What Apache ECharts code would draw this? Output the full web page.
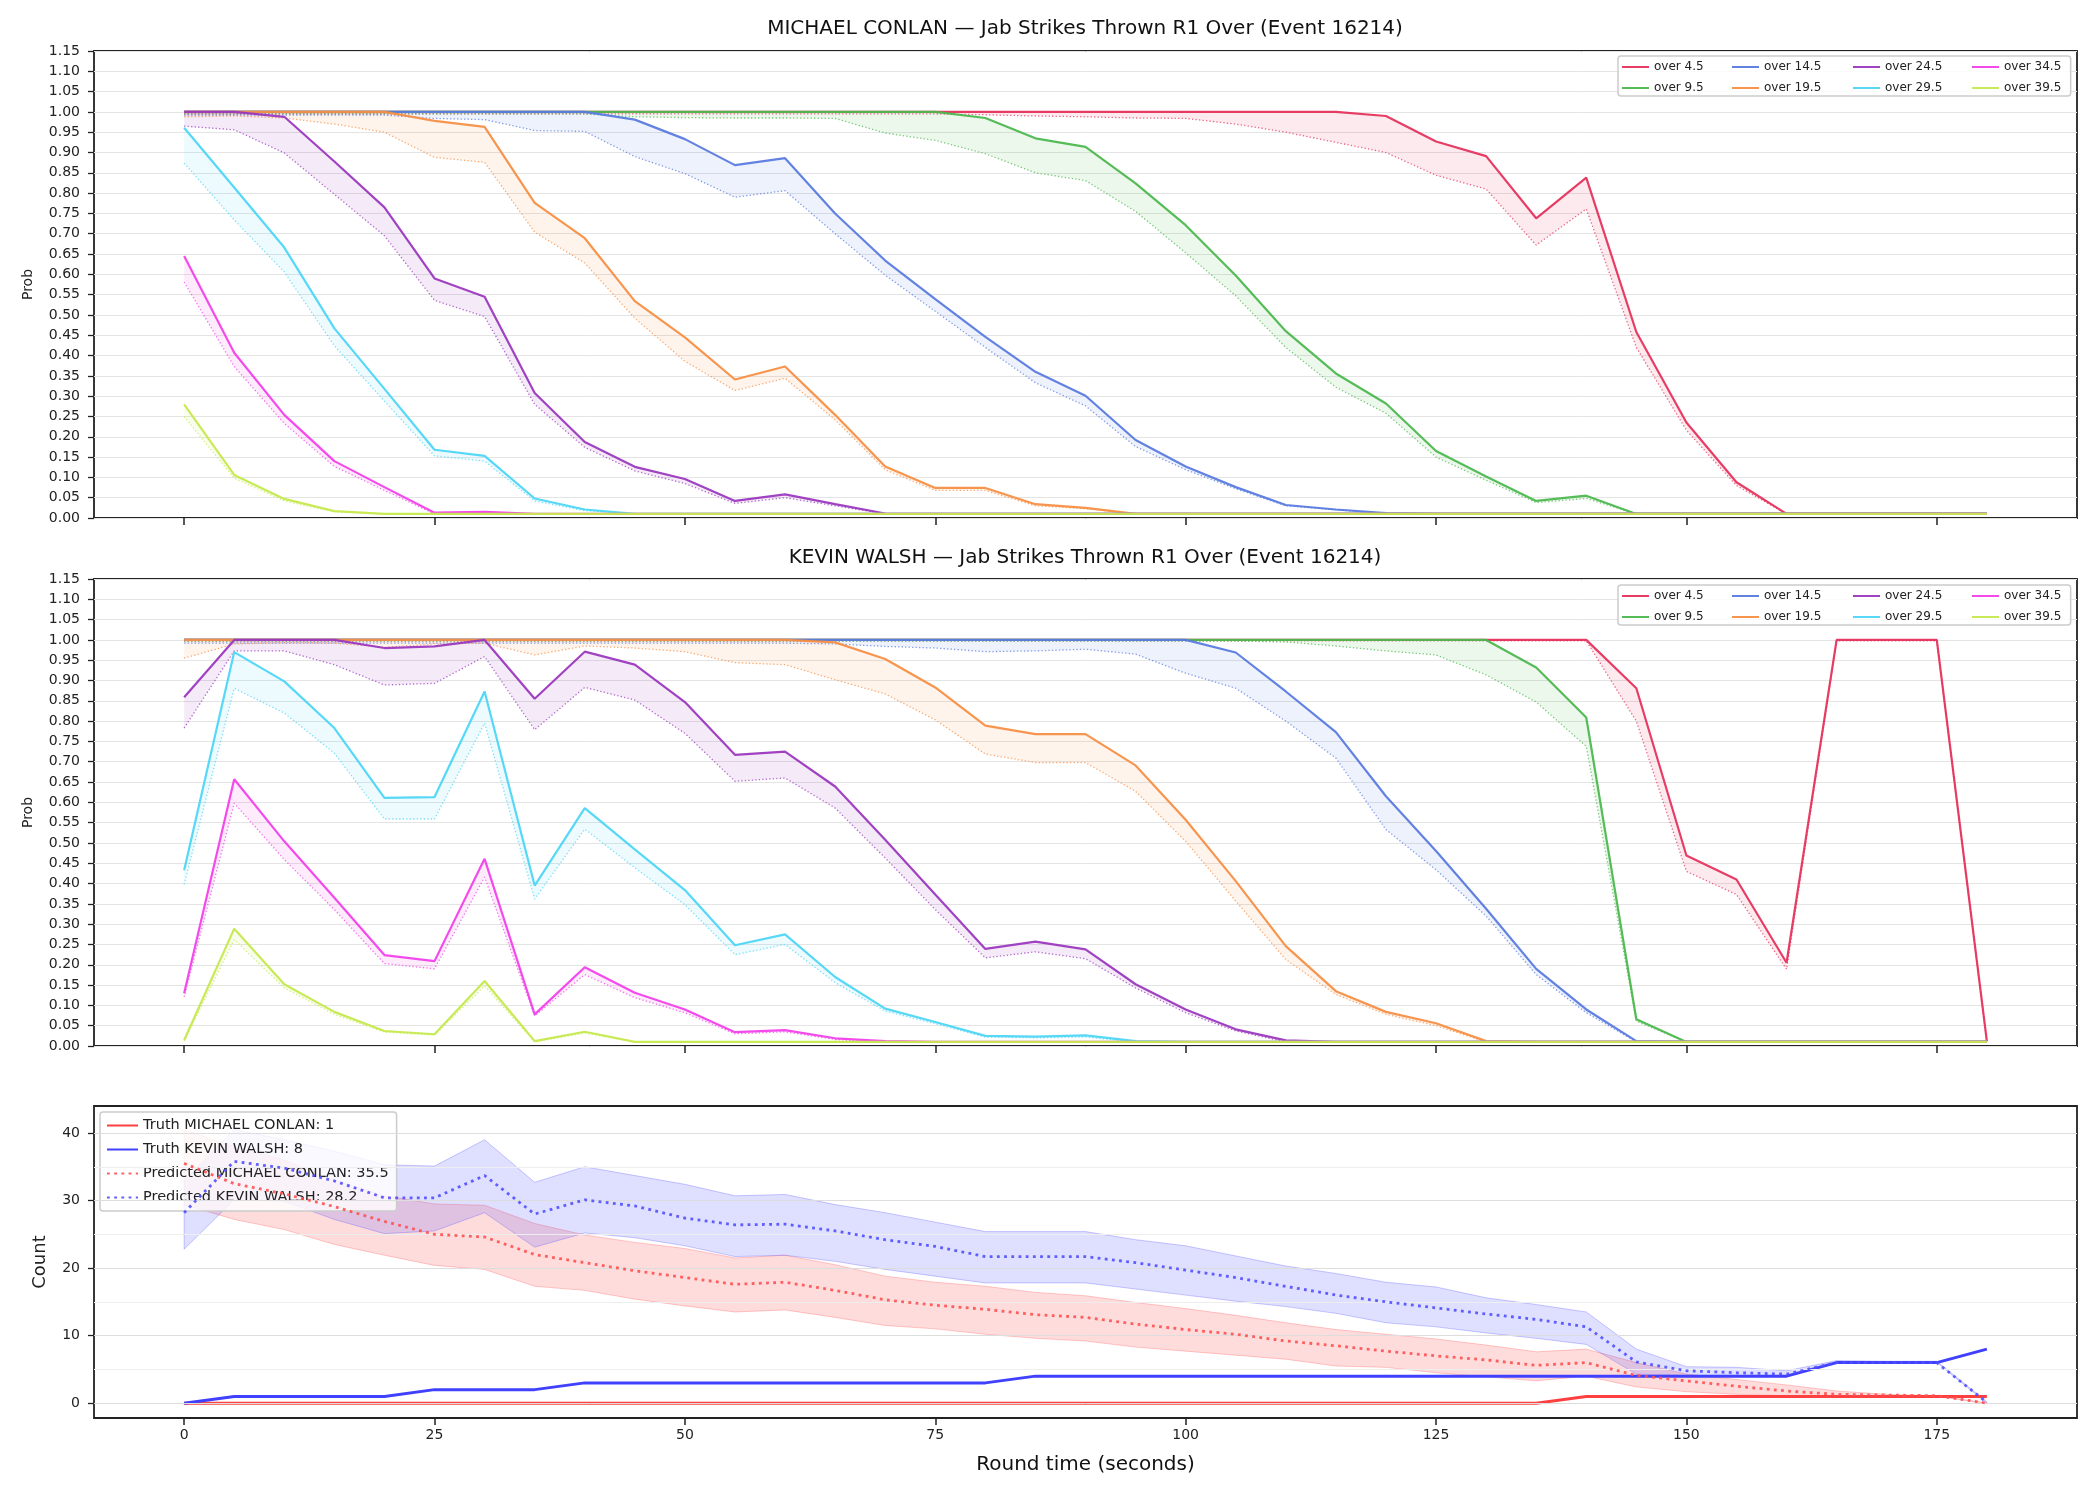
<!DOCTYPE html>
<html>
<head>
<meta charset="utf-8">
<title>Jab Strikes Thrown R1 Over (Event 16214)</title>
<script src="https://cdn.jsdelivr.net/npm/echarts@6/dist/echarts.min.js"></script>
<style>
  html, body { margin: 0; padding: 0; background: #fff; }
  #chart { width: 2100px; height: 1500px; }
</style>
</head>
<body>
<div id="chart"></div>
<script>
// round time axis (seconds)
const roundTime = [0, 5, 10, 15, 20, 25, 30, 35, 40, 45, 50, 55, 60, 65, 70, 75, 80, 85, 90, 95,
  100, 105, 110, 115, 120, 125, 130, 135, 140, 145, 150, 155, 160, 165, 170, 175, 180]
const xTicks = [0, 25, 50, 75, 100, 125, 150, 175]
const countTicks = [0, 10, 20, 30, 40]
const countGrid = [0, 5, 10, 15, 20, 25, 30, 35, 40]

const overNames = ['over 4.5', 'over 9.5', 'over 14.5', 'over 19.5', 'over 24.5', 'over 29.5', 'over 34.5', 'over 39.5']
const overColors = ['#e6335d', '#4cb84e', '#5a7be0', '#f78f45', '#9b38bf', '#4dd6f5', '#f241ea', '#c6e94e']
// legend columns (matplotlib ncol=4 fills column by column)
const legendColumns = [['over 4.5', 'over 9.5'], ['over 14.5', 'over 19.5'], ['over 24.5', 'over 29.5'], ['over 34.5', 'over 39.5']]

// MICHAEL CONLAN - solid line (prob) and dotted lower line
const conlanOver45 = [1, 1, 1, 1, 1, 1, 1, 1, 1, 1,
  1, 1, 1, 1, 1, 1, 1, 1, 1, 1,
  1, 1, 1, 1, 0.99, 0.927, 0.891, 0.738, 0.838, 0.458,
  0.235, 0.088, 0.01, 0.01, 0.01, 0.01, 0.01]
const conlanOver45Low = [0.995, 0.995, 0.995, 0.995, 0.995, 0.995, 0.995, 0.995, 0.995, 0.995,
  0.995, 0.995, 0.995, 0.995, 0.995, 0.995, 0.993, 0.99, 0.988, 0.985,
  0.984, 0.97, 0.95, 0.925, 0.9, 0.844, 0.81, 0.672, 0.761, 0.42,
  0.216, 0.08, 0.01, 0.01, 0.01, 0.01, 0.01]
const conlanOver95 = [1, 1, 1, 1, 1, 1, 1, 1, 1, 1,
  1, 1, 1, 1, 1, 1, 0.985, 0.935, 0.914, 0.824,
  0.721, 0.597, 0.46, 0.356, 0.282, 0.165, 0.102, 0.042, 0.055, 0.01,
  0.01, 0.01, 0.01, 0.01, 0.01, 0.01, 0.01]
const conlanOver95Low = [0.995, 0.995, 0.995, 0.995, 0.995, 0.995, 0.995, 0.995, 0.995, 0.988,
  0.986, 0.985, 0.985, 0.984, 0.948, 0.93, 0.897, 0.85, 0.831, 0.755,
  0.653, 0.547, 0.42, 0.322, 0.258, 0.15, 0.093, 0.038, 0.048, 0.01,
  0.01, 0.01, 0.01, 0.01, 0.01, 0.01, 0.01]
const conlanOver145 = [1, 1, 1, 1, 1, 1, 1, 1, 1, 0.981,
  0.933, 0.869, 0.886, 0.75, 0.634, 0.539, 0.446, 0.36, 0.301, 0.192,
  0.127, 0.076, 0.032, 0.021, 0.012, 0.01, 0.01, 0.01, 0.01, 0.01,
  0.01, 0.01, 0.01, 0.01, 0.01, 0.01, 0.01]
const conlanOver145Low = [0.992, 0.992, 0.992, 0.992, 0.992, 0.984, 0.981, 0.954, 0.952, 0.89,
  0.848, 0.79, 0.806, 0.7, 0.598, 0.509, 0.42, 0.333, 0.276, 0.176,
  0.119, 0.072, 0.03, 0.02, 0.011, 0.01, 0.01, 0.01, 0.01, 0.01,
  0.01, 0.01, 0.01, 0.01, 0.01, 0.01, 0.01]
const conlanOver195 = [1, 1, 1, 1, 1, 0.978, 0.963, 0.776, 0.689, 0.534,
  0.445, 0.341, 0.373, 0.254, 0.127, 0.074, 0.074, 0.034, 0.025, 0.01,
  0.01, 0.01, 0.01, 0.01, 0.01, 0.01, 0.01, 0.01, 0.01, 0.01,
  0.01, 0.01, 0.01, 0.01, 0.01, 0.01, 0.01]
const conlanOver195Low = [0.988, 0.99, 0.985, 0.97, 0.95, 0.888, 0.876, 0.704, 0.628, 0.492,
  0.386, 0.314, 0.344, 0.242, 0.119, 0.068, 0.068, 0.03, 0.023, 0.01,
  0.01, 0.01, 0.01, 0.01, 0.01, 0.01, 0.01, 0.01, 0.01, 0.01,
  0.01, 0.01, 0.01, 0.01, 0.01, 0.01, 0.01]
const conlanOver245 = [1, 1, 0.988, 0.878, 0.765, 0.59, 0.545, 0.308, 0.187, 0.126,
  0.096, 0.042, 0.058, 0.034, 0.011, 0.01, 0.01, 0.01, 0.01, 0.01,
  0.01, 0.01, 0.01, 0.01, 0.01, 0.01, 0.01, 0.01, 0.01, 0.01,
  0.01, 0.01, 0.01, 0.01, 0.01, 0.01, 0.01]
const conlanOver245Low = [0.965, 0.956, 0.899, 0.797, 0.695, 0.536, 0.496, 0.28, 0.174, 0.116,
  0.085, 0.036, 0.05, 0.03, 0.01, 0.01, 0.01, 0.01, 0.01, 0.01,
  0.01, 0.01, 0.01, 0.01, 0.01, 0.01, 0.01, 0.01, 0.01, 0.01,
  0.01, 0.01, 0.01, 0.01, 0.01, 0.01, 0.01]
const conlanOver295 = [0.961, 0.814, 0.666, 0.467, 0.318, 0.168, 0.153, 0.048, 0.021, 0.01,
  0.01, 0.01, 0.01, 0.01, 0.01, 0.01, 0.01, 0.01, 0.01, 0.01,
  0.01, 0.01, 0.01, 0.01, 0.01, 0.01, 0.01, 0.01, 0.01, 0.01,
  0.01, 0.01, 0.01, 0.01, 0.01, 0.01, 0.01]
const conlanOver295Low = [0.874, 0.734, 0.606, 0.424, 0.288, 0.153, 0.14, 0.042, 0.018, 0.01,
  0.01, 0.01, 0.01, 0.01, 0.01, 0.01, 0.01, 0.01, 0.01, 0.01,
  0.01, 0.01, 0.01, 0.01, 0.01, 0.01, 0.01, 0.01, 0.01, 0.01,
  0.01, 0.01, 0.01, 0.01, 0.01, 0.01, 0.01]
const conlanOver345 = [0.645, 0.407, 0.254, 0.14, 0.076, 0.013, 0.015, 0.01, 0.01, 0.01,
  0.01, 0.01, 0.01, 0.01, 0.01, 0.01, 0.01, 0.01, 0.01, 0.01,
  0.01, 0.01, 0.01, 0.01, 0.01, 0.01, 0.01, 0.01, 0.01, 0.01,
  0.01, 0.01, 0.01, 0.01, 0.01, 0.01, 0.01]
const conlanOver345Low = [0.581, 0.373, 0.233, 0.127, 0.068, 0.01, 0.012, 0.01, 0.01, 0.01,
  0.01, 0.01, 0.01, 0.01, 0.01, 0.01, 0.01, 0.01, 0.01, 0.01,
  0.01, 0.01, 0.01, 0.01, 0.01, 0.01, 0.01, 0.01, 0.01, 0.01,
  0.01, 0.01, 0.01, 0.01, 0.01, 0.01, 0.01]
const conlanOver395 = [0.28, 0.106, 0.047, 0.017, 0.01, 0.01, 0.01, 0.01, 0.01, 0.01,
  0.01, 0.01, 0.01, 0.01, 0.01, 0.01, 0.01, 0.01, 0.01, 0.01,
  0.01, 0.01, 0.01, 0.01, 0.01, 0.01, 0.01, 0.01, 0.01, 0.01,
  0.01, 0.01, 0.01, 0.01, 0.01, 0.01, 0.01]
const conlanOver395Low = [0.25, 0.098, 0.042, 0.015, 0.01, 0.01, 0.01, 0.01, 0.01, 0.01,
  0.01, 0.01, 0.01, 0.01, 0.01, 0.01, 0.01, 0.01, 0.01, 0.01,
  0.01, 0.01, 0.01, 0.01, 0.01, 0.01, 0.01, 0.01, 0.01, 0.01,
  0.01, 0.01, 0.01, 0.01, 0.01, 0.01, 0.01]

// KEVIN WALSH
const walshOver45 = [1, 1, 1, 1, 1, 1, 1, 1, 1, 1,
  1, 1, 1, 1, 1, 1, 1, 1, 1, 1,
  1, 1, 1, 1, 1, 1, 1, 1, 1, 0.881,
  0.469, 0.41, 0.205, 1, 1, 1, 0.012]
const walshOver45Low = [0.998, 0.998, 0.998, 0.998, 0.998, 0.998, 0.998, 0.998, 0.998, 0.998,
  0.998, 0.998, 0.998, 0.998, 0.998, 0.998, 0.998, 0.998, 0.998, 0.998,
  0.998, 0.998, 0.998, 0.998, 0.998, 0.998, 0.998, 0.998, 0.998, 0.8,
  0.43, 0.373, 0.189, 0.998, 0.998, 0.998, 0.01]
const walshOver95 = [1, 1, 1, 1, 1, 1, 1, 1, 1, 1,
  1, 1, 1, 1, 1, 1, 1, 1, 1, 1,
  1, 1, 1, 1, 1, 1, 1, 0.932, 0.809, 0.066,
  0.01, 0.01, 0.01, 0.01, 0.01, 0.01, 0.01]
const walshOver95Low = [0.997, 0.997, 0.997, 0.997, 0.997, 0.997, 0.997, 0.997, 0.997, 0.997,
  0.997, 0.997, 0.997, 0.997, 0.997, 0.997, 0.997, 0.997, 0.997, 0.997,
  0.997, 0.997, 0.995, 0.985, 0.973, 0.963, 0.914, 0.847, 0.738, 0.061,
  0.01, 0.01, 0.01, 0.01, 0.01, 0.01, 0.01]
const walshOver145 = [1, 1, 1, 1, 1, 1, 1, 1, 1, 1,
  1, 1, 1, 1, 1, 1, 1, 1, 1, 1,
  1, 0.969, 0.873, 0.773, 0.615, 0.48, 0.338, 0.19, 0.09, 0.012,
  0.01, 0.01, 0.01, 0.01, 0.01, 0.01, 0.01]
const walshOver145Low = [0.992, 0.992, 0.992, 0.992, 0.992, 0.992, 0.992, 0.992, 0.992, 0.992,
  0.992, 0.992, 0.992, 0.99, 0.984, 0.98, 0.971, 0.973, 0.977, 0.965,
  0.918, 0.881, 0.8, 0.709, 0.533, 0.434, 0.32, 0.176, 0.082, 0.01,
  0.01, 0.01, 0.01, 0.01, 0.01, 0.01, 0.01]
const walshOver195 = [1, 1, 1, 1, 1, 1, 1, 1, 1, 1,
  1, 1, 1, 0.994, 0.953, 0.883, 0.789, 0.768, 0.768, 0.691,
  0.557, 0.406, 0.246, 0.135, 0.084, 0.056, 0.012, 0.01, 0.01, 0.01,
  0.01, 0.01, 0.01, 0.01, 0.01, 0.01, 0.01]
const walshOver195Low = [0.955, 0.99, 0.993, 0.992, 0.982, 0.99, 0.992, 0.963, 0.985, 0.98,
  0.971, 0.944, 0.939, 0.902, 0.867, 0.803, 0.719, 0.698, 0.698, 0.627,
  0.504, 0.357, 0.213, 0.127, 0.078, 0.05, 0.01, 0.01, 0.01, 0.01,
  0.01, 0.01, 0.01, 0.01, 0.01, 0.01, 0.01]
const walshOver245 = [0.859, 1, 1, 1, 0.98, 0.984, 1, 0.855, 0.971, 0.939,
  0.847, 0.717, 0.725, 0.639, 0.508, 0.373, 0.239, 0.257, 0.238, 0.152,
  0.09, 0.041, 0.014, 0.01, 0.01, 0.01, 0.01, 0.01, 0.01, 0.01,
  0.01, 0.01, 0.01, 0.01, 0.01, 0.01, 0.01]
const walshOver245Low = [0.783, 0.973, 0.973, 0.939, 0.889, 0.893, 0.959, 0.779, 0.883, 0.852,
  0.77, 0.652, 0.66, 0.586, 0.463, 0.336, 0.217, 0.232, 0.215, 0.143,
  0.082, 0.037, 0.01, 0.01, 0.01, 0.01, 0.01, 0.01, 0.01, 0.01,
  0.01, 0.01, 0.01, 0.01, 0.01, 0.01, 0.01]
const walshOver295 = [0.433, 0.97, 0.898, 0.783, 0.611, 0.613, 0.873, 0.395, 0.586, 0.484,
  0.384, 0.248, 0.275, 0.17, 0.092, 0.059, 0.025, 0.023, 0.026, 0.012,
  0.01, 0.01, 0.01, 0.01, 0.01, 0.01, 0.01, 0.01, 0.01, 0.01,
  0.01, 0.01, 0.01, 0.01, 0.01, 0.01, 0.01]
const walshOver295Low = [0.398, 0.881, 0.82, 0.721, 0.559, 0.559, 0.795, 0.362, 0.534, 0.439,
  0.348, 0.225, 0.25, 0.156, 0.086, 0.055, 0.022, 0.02, 0.022, 0.01,
  0.01, 0.01, 0.01, 0.01, 0.01, 0.01, 0.01, 0.01, 0.01, 0.01,
  0.01, 0.01, 0.01, 0.01, 0.01, 0.01, 0.01]
const walshOver345 = [0.13, 0.657, 0.504, 0.365, 0.224, 0.209, 0.461, 0.078, 0.194, 0.131,
  0.09, 0.034, 0.039, 0.019, 0.012, 0.01, 0.01, 0.01, 0.01, 0.01,
  0.01, 0.01, 0.01, 0.01, 0.01, 0.01, 0.01, 0.01, 0.01, 0.01,
  0.01, 0.01, 0.01, 0.01, 0.01, 0.01, 0.01]
const walshOver345Low = [0.121, 0.598, 0.459, 0.336, 0.203, 0.19, 0.416, 0.074, 0.176, 0.119,
  0.082, 0.03, 0.035, 0.016, 0.01, 0.01, 0.01, 0.01, 0.01, 0.01,
  0.01, 0.01, 0.01, 0.01, 0.01, 0.01, 0.01, 0.01, 0.01, 0.01,
  0.01, 0.01, 0.01, 0.01, 0.01, 0.01, 0.01]
const walshOver395 = [0.014, 0.289, 0.152, 0.084, 0.037, 0.029, 0.16, 0.012, 0.035, 0.01,
  0.01, 0.01, 0.01, 0.01, 0.01, 0.01, 0.01, 0.01, 0.01, 0.01,
  0.01, 0.01, 0.01, 0.01, 0.01, 0.01, 0.01, 0.01, 0.01, 0.01,
  0.01, 0.01, 0.01, 0.01, 0.01, 0.01, 0.01]
const walshOver395Low = [0.012, 0.262, 0.143, 0.078, 0.034, 0.027, 0.148, 0.01, 0.032, 0.01,
  0.01, 0.01, 0.01, 0.01, 0.01, 0.01, 0.01, 0.01, 0.01, 0.01,
  0.01, 0.01, 0.01, 0.01, 0.01, 0.01, 0.01, 0.01, 0.01, 0.01,
  0.01, 0.01, 0.01, 0.01, 0.01, 0.01, 0.01]

// counts (bottom panel)
const truthConlan = [0, 0, 0, 0, 0, 0, 0, 0, 0, 0,
  0, 0, 0, 0, 0, 0, 0, 0, 0, 0,
  0, 0, 0, 0, 0, 0, 0, 0, 1, 1,
  1, 1, 1, 1, 1, 1, 1]
const truthWalsh = [0, 1, 1, 1, 1, 2, 2, 2, 3, 3,
  3, 3, 3, 3, 3, 3, 3, 4, 4, 4,
  4, 4, 4, 4, 4, 4, 4, 4, 4, 4,
  4, 4, 4, 6, 6, 6, 8]
const predConlan = [35.5, 32.5, 31.0, 29.1, 26.9, 25.0, 24.6, 22.0, 20.8, 19.6,
  18.6, 17.6, 17.9, 16.7, 15.3, 14.5, 13.9, 13.1, 12.7, 11.7,
  10.9, 10.2, 9.2, 8.5, 7.7, 7.0, 6.4, 5.6, 6.0, 4.1,
  3.3, 2.5, 1.8, 1.3, 1.2, 1.1, 0]
const conlanHigh = [40.5, 38.0, 36.0, 33.0, 30.7, 29.5, 29.3, 26.6, 24.9, 23.8,
  22.9, 21.5, 21.9, 20.5, 18.8, 17.9, 17.3, 16.4, 15.9, 14.9,
  14.0, 13.0, 11.9, 10.9, 10.2, 9.5, 8.6, 7.6, 8.0, 6.0,
  4.3, 3.5, 2.7, 1.8, 1.3, 1.1, 0]
const conlanLow = [29.4, 27.2, 25.7, 23.5, 21.9, 20.4, 19.8, 17.3, 16.7, 15.4,
  14.4, 13.5, 13.8, 12.7, 11.5, 11.0, 10.2, 9.6, 9.2, 8.3,
  7.7, 7.1, 6.5, 5.5, 5.3, 4.5, 3.9, 3.3, 4.0, 2.4,
  1.7, 1.3, 1.1, 1.0, 1.0, 1.0, 0]
const predWalsh = [28.2, 35.8, 34.8, 32.9, 30.4, 30.4, 33.7, 28.0, 30.1, 29.2,
  27.4, 26.4, 26.5, 25.5, 24.2, 23.2, 21.7, 21.7, 21.7, 20.8,
  19.7, 18.6, 17.3, 16.0, 15.0, 14.1, 13.2, 12.4, 11.3, 6.1,
  4.8, 4.5, 4.3, 6.0, 6.0, 6.0, 0.1]
const walshHigh = [33.0, 40.5, 39.0, 37.3, 35.3, 35.1, 39.0, 32.7, 35.0, 33.7,
  32.4, 30.7, 30.9, 29.4, 28.2, 26.8, 25.4, 25.4, 25.4, 24.2,
  23.3, 21.8, 20.3, 19.2, 17.9, 17.2, 15.6, 14.6, 13.5, 8.0,
  5.4, 5.3, 4.8, 6.3, 6.2, 6.2, 0.2]
const walshLow = [22.8, 30.1, 29.9, 27.2, 25.1, 25.5, 28.2, 23.1, 25.2, 24.5,
  23.3, 21.7, 21.9, 21.0, 19.8, 18.8, 17.8, 17.8, 17.8, 16.9,
  16.0, 15.1, 14.3, 13.3, 11.9, 11.3, 10.4, 9.6, 8.7, 4.3,
  4.1, 4.1, 4.0, 6.0, 6.0, 6.0, 0]

const FONT = 'DejaVu Sans'
const INK = '#222'

function toPoints(ys) {
  return roundTime.map((t, i) => [t, ys[i]])
}
function rgba(hex, a) {
  const n = parseInt(hex.slice(1), 16)
  return 'rgba(' + (n >> 16) + ',' + ((n >> 8) & 255) + ',' + (n & 255) + ',' + a + ')'
}

// filled band between lo and hi, drawn as one polygon through the axes
function bandSeries(panel, lo, hi, fill, stroke) {
  return {
    type: 'custom', xAxisIndex: panel, yAxisIndex: panel, silent: true, z: 1, animation: false,
    data: roundTime.map((t, i) => [t, lo[i], hi[i]]),
    encode: { x: 0, y: [1, 2] },
    renderItem: (params, api) => {
      if (params.dataIndex !== 0) return null
      const upper = roundTime.map((t, i) => api.coord([t, hi[i]]))
      const lower = roundTime.map((t, i) => api.coord([t, lo[i]])).reverse()
      return {
        type: 'polygon',
        shape: { points: upper.concat(lower) },
        style: { fill, stroke: stroke || 'none', lineWidth: stroke ? 1 : 0 }
      }
    }
  }
}

function probSeries(panel, solids, lows) {
  const out = []
  overNames.forEach((name, k) => {
    const c = overColors[k]
    const common = { type: 'line', xAxisIndex: panel, yAxisIndex: panel, symbol: 'none', animation: false }
    out.push(bandSeries(panel, lows[k], solids[k], rgba(c, 0.1)))
    out.push({ ...common, name: name + ' low', data: toPoints(lows[k]),
      lineStyle: { color: c, width: 1.3, type: [1.3, 2.2], opacity: 0.75 }, z: 3 })
    out.push({ ...common, name, data: toPoints(solids[k]), color: c,
      lineStyle: { color: c, width: 2.2, opacity: 0.95 }, z: 4 })
  })
  return out
}

// one small vertical legend per column; the first one also draws the frame
function probLegends(top) {
  const colLeft = [1621, 1731, 1852, 1971]
  const base = {
    orient: 'vertical', itemWidth: 27, itemHeight: 12, itemGap: 9,
    itemStyle: { opacity: 0 },
    textStyle: { fontSize: 12, color: INK, fontFamily: FONT }
  }
  return legendColumns.map((names, c) => {
    if (c === 0) {
      return { ...base, data: names, left: colLeft[0] - 3, top, padding: [5, 367, 2, 3],
        backgroundColor: 'rgba(255,255,255,0.85)', borderColor: '#cccccc', borderWidth: 1.5, borderRadius: 3, z: 5 }
    }
    return { ...base, data: names, left: colLeft[c], top: top + 5, padding: 0, z: 6 }
  })
}

const chart = echarts.init(document.getElementById('chart'))

const grids = [
  { left: 94, right: 23, top: 51, height: 467 },
  { left: 94, right: 23, top: 579, height: 467 },
  { left: 94, right: 23, top: 1106, height: 312 }
].map((g) => ({ ...g, show: true, borderColor: INK, borderWidth: 1.8, backgroundColor: 'transparent' }))

const xAxes = [0, 1, 2].map((i) => ({
  type: 'value', gridIndex: i, min: -9, max: 189, position: 'bottom',
  axisLine: { show: false, onZero: false },
  axisTick: { show: true, customValues: xTicks, length: 7, lineStyle: { color: INK, width: 1.5 } },
  axisLabel: { show: i === 2, customValues: xTicks, fontSize: 14, color: INK, fontFamily: FONT, margin: 10 },
  splitLine: { show: false },
  name: i === 2 ? 'Round time (seconds)' : '',
  nameLocation: 'middle', nameGap: 37,
  nameTextStyle: { fontSize: 20, color: '#111', fontFamily: FONT }
}))

const probY = (i) => ({
  type: 'value', gridIndex: i, min: 0, max: 1.15, interval: 0.05, position: 'left',
  axisLine: { show: false, onZero: false },
  axisTick: { show: true, length: 6, lineStyle: { color: INK, width: 1.3 } },
  axisLabel: { fontSize: 14, color: INK, fontFamily: FONT, margin: 14, formatter: (v) => v.toFixed(2) },
  splitLine: { show: true, lineStyle: { color: '#e4e4e4', width: 1 } },
  name: 'Prob', nameLocation: 'middle', nameGap: 59,
  nameTextStyle: { fontSize: 14, color: INK, fontFamily: FONT }
})

const yAxes = [probY(0), probY(1), {
  type: 'value', gridIndex: 2, min: -2.2, max: 44, position: 'left',
  axisLine: { show: false, onZero: false },
  axisTick: { show: true, customValues: countTicks, length: 6, lineStyle: { color: INK, width: 1.3 } },
  axisLabel: { customValues: countTicks, fontSize: 14, color: INK, fontFamily: FONT, margin: 14 },
  splitLine: { show: false },
  name: 'Count', nameLocation: 'middle', nameGap: 45,
  nameTextStyle: { fontSize: 18, color: INK, fontFamily: FONT }
}]

const conlanSolids = [conlanOver45, conlanOver95, conlanOver145, conlanOver195, conlanOver245, conlanOver295, conlanOver345, conlanOver395]
const conlanLows = [conlanOver45Low, conlanOver95Low, conlanOver145Low, conlanOver195Low, conlanOver245Low, conlanOver295Low, conlanOver345Low, conlanOver395Low]
const walshSolids = [walshOver45, walshOver95, walshOver145, walshOver195, walshOver245, walshOver295, walshOver345, walshOver395]
const walshLows = [walshOver45Low, walshOver95Low, walshOver145Low, walshOver195Low, walshOver245Low, walshOver295Low, walshOver345Low, walshOver395Low]

const cb = { type: 'line', xAxisIndex: 2, yAxisIndex: 2, symbol: 'none', animation: false }
const RED = '#ff4040'
const BLUE = '#4040ff'

const countSeries = [
  // horizontal grid of the count panel
  { ...cb, name: 'count grid', data: [], z: 0, silent: true,
    markLine: { silent: true, symbol: 'none', animation: false, label: { show: false },
      data: countGrid.map((v) => ({ yAxis: v, lineStyle: { color: v % 10 === 0 ? '#dddddd' : '#eeeeee', width: 1, type: 'solid' } })) } },
  bandSeries(2, conlanLow, conlanHigh, 'rgba(255,80,80,0.2)', 'rgba(255,80,80,0.3)'),
  bandSeries(2, walshLow, walshHigh, 'rgba(80,80,255,0.18)', 'rgba(80,80,255,0.3)'),
  { ...cb, name: 'Truth MICHAEL CONLAN: 1', data: toPoints(truthConlan), color: RED, lineStyle: { color: RED, width: 3 }, z: 4 },
  { ...cb, name: 'Truth KEVIN WALSH: 8', data: toPoints(truthWalsh), color: BLUE, lineStyle: { color: BLUE, width: 3 }, z: 4 },
  { ...cb, name: 'Predicted MICHAEL CONLAN: 35.5', data: toPoints(predConlan), color: '#ff5050',
    lineStyle: { color: '#ff5050', width: 2.8, type: [2.8, 4.4], opacity: 0.9 }, z: 5 },
  { ...cb, name: 'Predicted KEVIN WALSH: 28.2', data: toPoints(predWalsh), color: '#5050ff',
    lineStyle: { color: '#5050ff', width: 2.8, type: [2.8, 4.4], opacity: 0.9 }, z: 5 }
]

const titleStyle = { fontSize: 20, fontWeight: 'normal', color: '#111', fontFamily: FONT }

chart.setOption({
  animation: false,
  backgroundColor: '#ffffff',
  title: [
    { text: 'MICHAEL CONLAN — Jab Strikes Thrown R1 Over (Event 16214)', left: 1085, top: 19, textAlign: 'center', padding: 0, textStyle: titleStyle },
    { text: 'KEVIN WALSH — Jab Strikes Thrown R1 Over (Event 16214)', left: 1085, top: 548, textAlign: 'center', padding: 0, textStyle: titleStyle }
  ],
  legend: [
    ...probLegends(56),
    ...probLegends(585),
    {
      orient: 'vertical', left: 100, top: 1112, itemWidth: 31, itemHeight: 14, itemGap: 9,
      itemStyle: { opacity: 0 },
      padding: [6, 8, 6, 6], backgroundColor: 'rgba(255,255,255,0.8)', borderColor: '#cccccc', borderWidth: 1.5, borderRadius: 3,
      textStyle: { fontSize: 14.5, color: INK, fontFamily: FONT },
      data: ['Truth MICHAEL CONLAN: 1', 'Truth KEVIN WALSH: 8', 'Predicted MICHAEL CONLAN: 35.5', 'Predicted KEVIN WALSH: 28.2']
    }
  ],
  grid: grids,
  xAxis: xAxes,
  yAxis: yAxes,
  series: [...probSeries(0, conlanSolids, conlanLows), ...probSeries(1, walshSolids, walshLows), ...countSeries]
})
</script>
</body>
</html>
